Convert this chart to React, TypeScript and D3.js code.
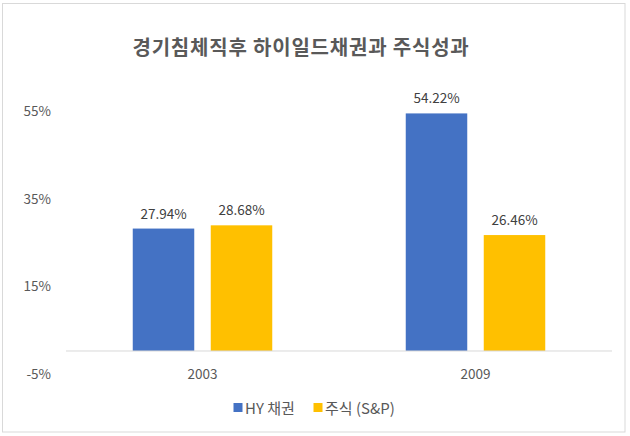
import React from "react";
import * as d3 from "d3";

const categories = ["2003", "2009"];
const seriesNames = ["HY 채권", "주식 (S&P)"];
const hyValues = [27.94, 54.22];
const stockValues = [28.68, 26.46];
const yTicks = [-5, 15, 35, 55];
const title = "경기침체직후 하이일드채권과 주식성과";
const colors = ["#4472C4", "#FFC000"];

const W = 630;
const H = 436;
const FONT = "'Noto Sans CJK KR', 'Noto Sans', sans-serif";

export default function App() {
  const values = [hyValues, stockValues];
  const x0 = d3.scaleBand<string>().domain(categories).range([66, 612]);
  const bw = x0.bandwidth();
  const x1 = d3
    .scaleBand<string>()
    .domain(seriesNames)
    .range([66.75, bw - 66.75])
    .paddingInner(0.2115)
    .paddingOuter(0);
  const y = d3.scaleLinear().domain([-5, 55]).range([372.9, 110]);

  return (
    <svg
      width={W}
      height={H}
      style={{ position: "absolute", left: 0, top: 0, background: "#fff" }}
      fontFamily={FONT}
    >
      <rect x={2.5} y={3.5} width={622.5} height={428.5} fill="#fff" stroke="#d9d9d9" strokeWidth={1} />
      <text
        x={301}
        y={46}
        textAnchor="middle"
        dominantBaseline="central"
        fontSize={20}
        letterSpacing={0.8}
        fontWeight="bold"
        fill="#595959"
      >
        {title}
      </text>
      {yTicks.map((t) => (
        <text
          key={t}
          x={51}
          y={y(t)}
          textAnchor="end"
          dominantBaseline="central"
          fontSize={13.5}
          fill="#595959"
        >
          {t}%
        </text>
      ))}
      {categories.map((c, ci) =>
        seriesNames.map((s, si) => {
          const v = values[si][ci];
          const bx = (x0(c) as number) + (x1(s) as number);
          return (
            <g key={c + s}>
              <rect
                x={bx}
                y={y(Math.max(0, v))}
                width={x1.bandwidth()}
                height={Math.abs(y(v) - y(0))}
                fill={colors[si]}
              />
              <text
                x={bx + x1.bandwidth() / 2}
                y={y(v) - 10}
                textAnchor="middle"
                fontSize={13.5}
                fill="#404040"
              >
                {v.toFixed(2)}%
              </text>
            </g>
          );
        })
      )}
      <line x1={66} x2={612} y1={y(0)} y2={y(0)} stroke="#d9d9d9" strokeWidth={1} />
      {categories.map((c) => (
        <text
          key={c}
          x={(x0(c) as number) + bw / 2}
          y={373}
          textAnchor="middle"
          dominantBaseline="central"
          fontSize={13.5}
          fill="#595959"
        >
          {c}
        </text>
      ))}
      <g>
        <rect x={233.5} y={403} width={9} height={9} fill={colors[0]} />
        <text x={245} y={407.5} dominantBaseline="central" fontSize={15} fill="#595959">
          {seriesNames[0]}
        </text>
        <rect x={313.5} y={403} width={9} height={9} fill={colors[1]} />
        <text x={325} y={407.5} dominantBaseline="central" fontSize={15} fill="#595959">
          {seriesNames[1]}
        </text>
      </g>
    </svg>
  );
}
